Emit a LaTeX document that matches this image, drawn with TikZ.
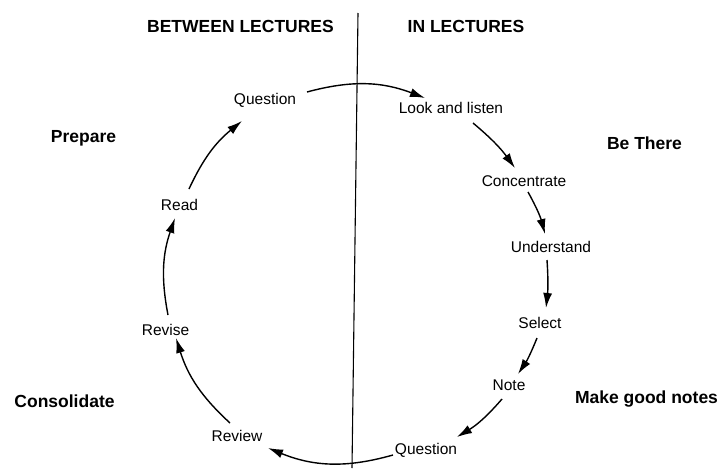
\documentclass[tikz,border=0pt]{standalone}
\usepackage{fontspec}
\setmainfont{Liberation Sans}
\usetikzlibrary{arrows.meta}
\begin{document}
\begin{tikzpicture}[x=1pt,y=1pt,
  stage/.style={inner sep=0pt,font=\fontsize{15.5}{18}\selectfont},
  phase/.style={inner sep=0pt,font=\fontsize{17.5}{20}\selectfont\bfseries},
  arr/.style={line width=1.4pt,-{Latex[length=15pt,width=9pt]}},
  divider/.style={line width=1.1pt}]
\useasboundingbox (0,0) rectangle (720,-471);
% headers and phase labels
\node[phase] (hdrL) at (240.5,-26) {BETWEEN LECTURES};
\node[phase] (hdrR) at (466,-26) {IN LECTURES};
\node[phase] (prep) at (83.5,-138) {Prepare};
\node[phase] (there) at (644.5,-143) {Be There};
\node[phase] (consol) at (64.5,-401) {Consolidate};
\node[phase] (make) at (646.5,-399) {Make good notes};
% divider
\coordinate (divtop) at (358,-13);
\coordinate (divbot) at (352,-468);
\draw[divider] (divtop) -- (divbot);
% stages
\node[stage] (q1) at (265,-100) {Question};
\node[stage] (look) at (451,-108) {Look and listen};
\node[stage] (conc) at (524,-181) {Concentrate};
\node[stage] (und) at (551,-247) {Understand};
\node[stage] (sel) at (540,-323) {Select};
\node[stage] (note) at (509,-385) {Note};
\node[stage] (q2) at (426,-450) {Question};
\node[stage] (rev) at (237,-436) {Review};
\node[stage] (revise) at (165.5,-330) {Revise};
\node[stage] (read) at (179.5,-205) {Read};
% cycle arrows
\draw[arr] ([shift={(42,8)}]q1.center) to[bend left=18] ([shift={(-26,10)}]look.center);
\draw[arr] ([shift={(22,-15)}]look.center) to[bend left=7] ([shift={(-9,13)}]conc.center);
\draw[arr] ([shift={(4,-11)}]conc.center) to[bend left=7] ([shift={(-6,13)}]und.center);
\draw[arr] ([shift={(-4,-13)}]und.center) to[bend left=5] ([shift={(6,15)}]sel.center);
\draw[arr] ([shift={(-3,-15)}]sel.center) to[bend left=6] ([shift={(9,11)}]note.center);
\draw[arr] ([shift={(-7,-14)}]note.center) to[bend left=9] ([shift={(31,13)}]q2.center);
\draw[arr] ([shift={(-33,-5)}]q2.center) to[bend left=19] ([shift={(31,-12)}]rev.center);
\draw[arr] ([shift={(-7,13)}]rev.center) to[bend left=15] ([shift={(10.5,-8)}]revise.center);
\draw[arr] ([shift={(2.5,15)}]revise.center) to[bend left=15] ([shift={(-4.5,-13)}]read.center);
\draw[arr] ([shift={(9.5,16)}]read.center) to[bend left=13] ([shift={(-23,-21)}]q1.center);
\end{tikzpicture}
\end{document}
